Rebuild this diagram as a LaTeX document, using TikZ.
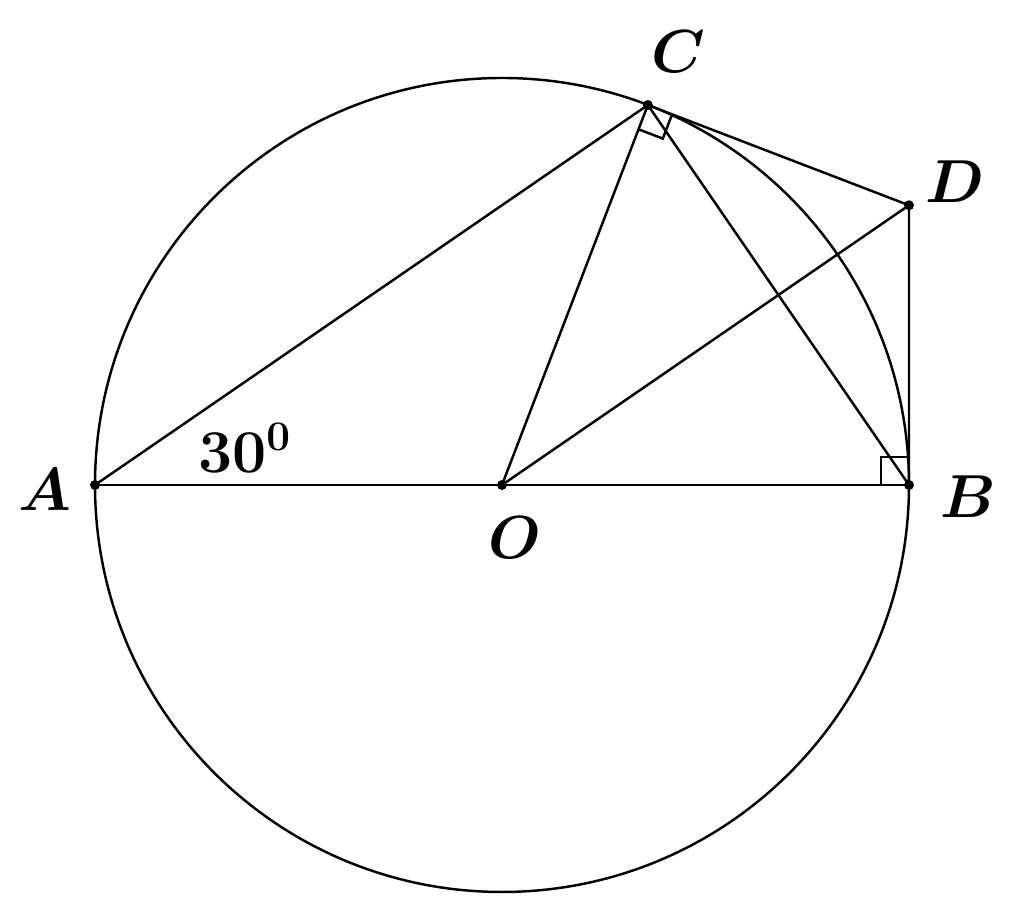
\documentclass[tikz,border=0pt]{standalone}
\usepackage{amsmath}
\usepackage{bm}
\usetikzlibrary{calc}

\begin{document}
\begin{tikzpicture}[line width=0.7pt,
    lbl/.style={font=\fontsize{18}{20}\selectfont}]
    \useasboundingbox (-5.02,-4.37) rectangle (5.22,4.85);
    % Points
    \coordinate (O) at (0,0);
    \coordinate (A) at (-4.07,0);
    \coordinate (B) at (4.07,0);
    \coordinate (C) at (69:4.07);
    \coordinate (D) at (4.07,{4.07*tan(34.5)});

    % Circle and segments
    \draw (O) circle (4.07);
    \draw (A) -- (B);
    \draw (A) -- (C) -- (B);
    \draw (O) -- (C) -- (D) -- (B);
    \draw (O) -- (D);

    % Right angles
    \draw ($(B)+(-0.28,0)$) -- ++(0,0.28) -- ++(0.28,0);
    \coordinate (c1) at ($(C)!0.26cm!(O)$);
    \coordinate (c2) at ($(C)!0.26cm!(D)$);
    \draw (c1) -- ($(c1)+(c2)-(C)$) -- (c2);

    % Dots
    \foreach \p in {A,B,O,C,D}
        \fill (\p) circle (0.05);

    % Labels
    \node[lbl] (labA) at (-4.57,-0.05) {$\bm{A}$};
    \node[lbl] (labB) at (4.66,-0.12) {$\bm{B}$};
    \node[lbl] (labO) at (0.13,-0.53) {$\bm{O}$};
    \node[lbl] (labC) at (1.76,4.33) {$\bm{C}$};
    \node[lbl] (labD) at (4.53,3.03) {$\bm{D}$};
    \node[lbl] (ang) at (-2.57,0.37) {$\bm{30^0}$};
\end{tikzpicture}
\end{document}
